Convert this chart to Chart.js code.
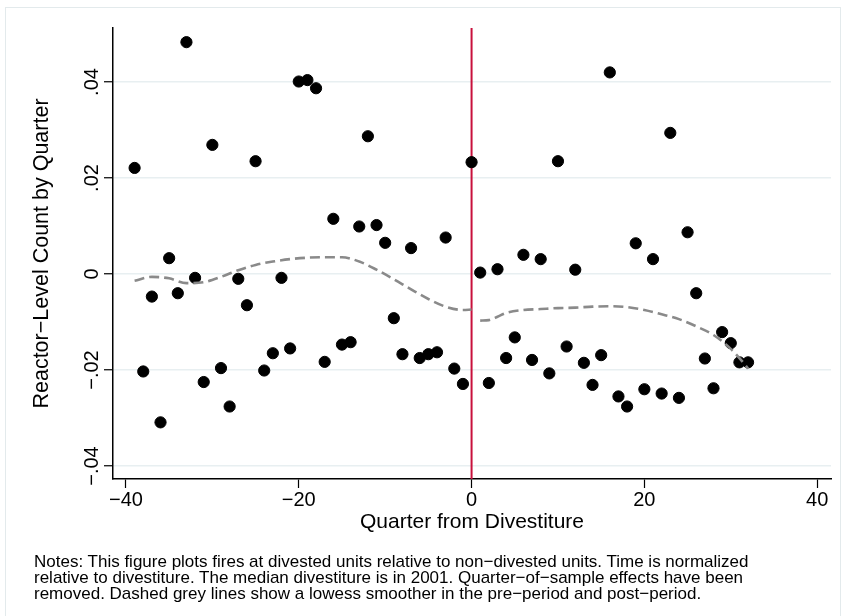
<!DOCTYPE html>
<html lang="en">
<head>
    <meta charset="UTF-8">
    <title>Fires at Divested Units by Quarter</title>
    <script src="https://cdn.jsdelivr.net/npm/chart.js@4.4.0/dist/chart.umd.min.js"></script>
    <style>
        body { margin: 0; background: #fff; }
        #wrap { position: relative; width: 845px; height: 616px; overflow: hidden; }
        #frame { position: absolute; left: 5px; top: 7px; width: 834px; height: 640px; border: 1px solid #e3eaec; }
        #chart { position: absolute; left: 0; top: 0; }
        #notes {
            position: absolute; left: 34px; top: 554px; width: 800px; white-space: nowrap;
            font-family: "Liberation Sans", Arial, sans-serif; font-size: 17px; line-height: 16px; color: #000;
        }
    </style>
</head>
<body>
<div id="wrap">
    <div id="frame"></div>
    <canvas id="chart" width="845" height="616"></canvas>
    <div id="notes">Notes: This figure plots fires at divested units relative to non&minus;divested units. Time is normalized<br>relative to divestiture. The median divestiture is in 2001. Quarter&minus;of&minus;sample effects have been<br>removed. Dashed grey lines show a lowess smoother in the pre&minus;period and post&minus;period.</div>
</div>
<script>
    // quarter relative to divestiture, and the estimated effect for each
    const quarters = [
        -39, -38, -37, -36, -35, -34, -33, -32, -31, -30,
        -29, -28, -27, -26, -25, -24, -23, -22, -21, -20,
        -19, -18, -17, -16, -15, -14, -13, -12, -11, -10,
        -9, -8, -7, -6, -5, -4, -3, -2, -1, 0,
        1, 2, 3, 4, 5, 6, 7, 8, 9, 10,
        11, 12, 13, 14, 15, 16, 17, 18, 19, 20,
        21, 22, 23, 24, 25, 26, 27, 28, 29, 30,
        31, 32
    ];
    const fireCounts = [
        0.0221, -0.0203, -0.0047, -0.0309, 0.0033, -0.0040, 0.0483, -0.0008, -0.0225, 0.0269,
        -0.0196, -0.0276, -0.0010, -0.0065, 0.0235, -0.0201, -0.0165, -0.0008, -0.0155, 0.0401,
        0.0404, 0.0387, -0.0183, 0.0115, -0.0147, -0.0142, 0.0099, 0.0287, 0.0102, 0.0065,
        -0.0092, -0.0167, 0.0054, -0.0175, -0.0167, -0.0163, 0.0076, -0.0197, -0.0229, 0.0233,
        0.0003, -0.0227, 0.0010, -0.0175, -0.0132, 0.0040, -0.0179, 0.0031, -0.0207, 0.0235,
        -0.0151, 0.0009, -0.0185, -0.0231, -0.0169, 0.0420, -0.0255, -0.0276, 0.0064, -0.0240,
        0.0031, -0.0249, 0.0294, -0.0258, 0.0087, -0.0040, -0.0176, -0.0238, -0.0121, -0.0144,
        -0.0184, -0.0184
    ];

    // lowess smoothers
    const preQuarters = [-39, -37, -35, -33, -31, -29, -27, -25, -23, -21, -19, -17, -15, -13, -11, -9, -7, -5, -3, -1, 0];
    const preLowess = [-0.0014, -0.0006, -0.0009, -0.0019, -0.0017, -0.0006, 0.0008, 0.0019, 0.0026, 0.0031, 0.0034,
        0.0035, 0.0035, 0.0026, 0.0009, -0.0011, -0.0032, -0.0052, -0.0068, -0.0075, -0.0074];
    const postQuarters = [1, 2, 3, 4, 6, 8, 10, 12, 14, 16, 18, 20, 22, 24, 26, 28, 30, 31, 32];
    const postLowess = [-0.0097, -0.0096, -0.0089, -0.0081, -0.0075, -0.0073, -0.0071, -0.0070, -0.0068, -0.0067,
        -0.0069, -0.0075, -0.0084, -0.0094, -0.0109, -0.0127, -0.0156, -0.0175, -0.0197];

    const xTicks = [-40, -20, 0, 20, 40];
    const xTickLabels = ['\u221240', '\u221220', '0', '20', '40'];
    const yTicks = [-0.04, -0.02, 0, 0.02, 0.04];
    const yTickLabels = ['\u2212.04', '\u2212.02', '0', '.02', '.04'];
    const divestitureQuarter = 0;

    const FONT = '"Liberation Sans", Arial, sans-serif';
    const toXY = (xs, ys) => xs.map((x, i) => ({ x: x, y: ys[i] }));

    const xlinePlugin = {
        id: 'xline',
        beforeDatasetsDraw(chart) {
            const { ctx, chartArea, scales } = chart;
            const px = scales.x.getPixelForValue(divestitureQuarter);
            ctx.save();
            ctx.strokeStyle = '#c8103c';
            ctx.lineWidth = 2;
            ctx.beginPath();
            ctx.moveTo(px, chartArea.top);
            ctx.lineTo(px, chartArea.bottom);
            ctx.stroke();
            ctx.restore();
        }
    };

    const lowessStyle = {
        type: 'line',
        showLine: true,
        borderColor: '#8a8a8a',
        borderWidth: 2.6,
        borderDash: [10, 5],
        pointRadius: 0,
        fill: false,
        cubicInterpolationMode: 'monotone'
    };

    new Chart(document.getElementById('chart'), {
        type: 'scatter',
        data: {
            datasets: [
                {
                    label: 'Fires',
                    data: toXY(quarters, fireCounts),
                    backgroundColor: '#000',
                    borderColor: '#000',
                    pointRadius: 5.6,
                    pointHoverRadius: 5.6,
                    order: 3
                },
                Object.assign({ label: 'Lowess pre', data: toXY(preQuarters, preLowess), order: 2 }, lowessStyle),
                Object.assign({ label: 'Lowess post', data: toXY(postQuarters, postLowess), order: 1 }, lowessStyle)
            ]
        },
        options: {
            responsive: false,
            animation: false,
            layout: { padding: { top: 28, right: 14, left: 0, bottom: 0 } },
            plugins: { legend: { display: false }, tooltip: { enabled: false } },
            scales: {
                x: {
                    type: 'linear',
                    min: -41.5,
                    max: 41.6,
                    afterBuildTicks: (scale) => { scale.ticks = xTicks.map(v => ({ value: v })); },
                    afterFit: (scale) => { scale.height = 137; },
                    ticks: {
                        color: '#000',
                        font: { family: FONT, size: 20 },
                        padding: 0,
                        maxRotation: 0,
                        callback: (v) => xTickLabels[xTicks.indexOf(v)]
                    },
                    grid: { drawOnChartArea: false, tickLength: 9, tickColor: '#000', tickWidth: 1.2 },
                    border: { display: true, color: '#000', width: 1.5 },
                    title: {
                        display: true,
                        text: 'Quarter from Divestiture',
                        color: '#000',
                        font: { family: FONT, size: 21 },
                        padding: { top: 0, bottom: 81 }
                    }
                },
                y: {
                    type: 'linear',
                    min: -0.0427,
                    max: 0.05125,
                    afterBuildTicks: (scale) => { scale.ticks = yTicks.map(v => ({ value: v })); },
                    afterFit: (scale) => { scale.width = 113; },
                    ticks: {
                        color: '#000',
                        font: { family: FONT, size: 20 },
                        minRotation: 90,
                        maxRotation: 90,
                        crossAlign: 'center',
                        padding: -8,
                        callback: (v) => yTickLabels[yTicks.findIndex(t => Math.abs(t - v) < 1e-9)]
                    },
                    grid: { color: '#e8eff1', lineWidth: 1.5, tickLength: 9, tickColor: '#000', tickWidth: 1.2 },
                    border: { display: true, color: '#000', width: 1.5 },
                    title: {
                        display: true,
                        text: 'Reactor\u2212Level Count by Quarter',
                        color: '#000',
                        font: { family: FONT, size: 21.5 },
                        padding: { top: 29, bottom: 0 }
                    }
                }
            }
        },
        plugins: [xlinePlugin]
    });
</script>
</body>
</html>
